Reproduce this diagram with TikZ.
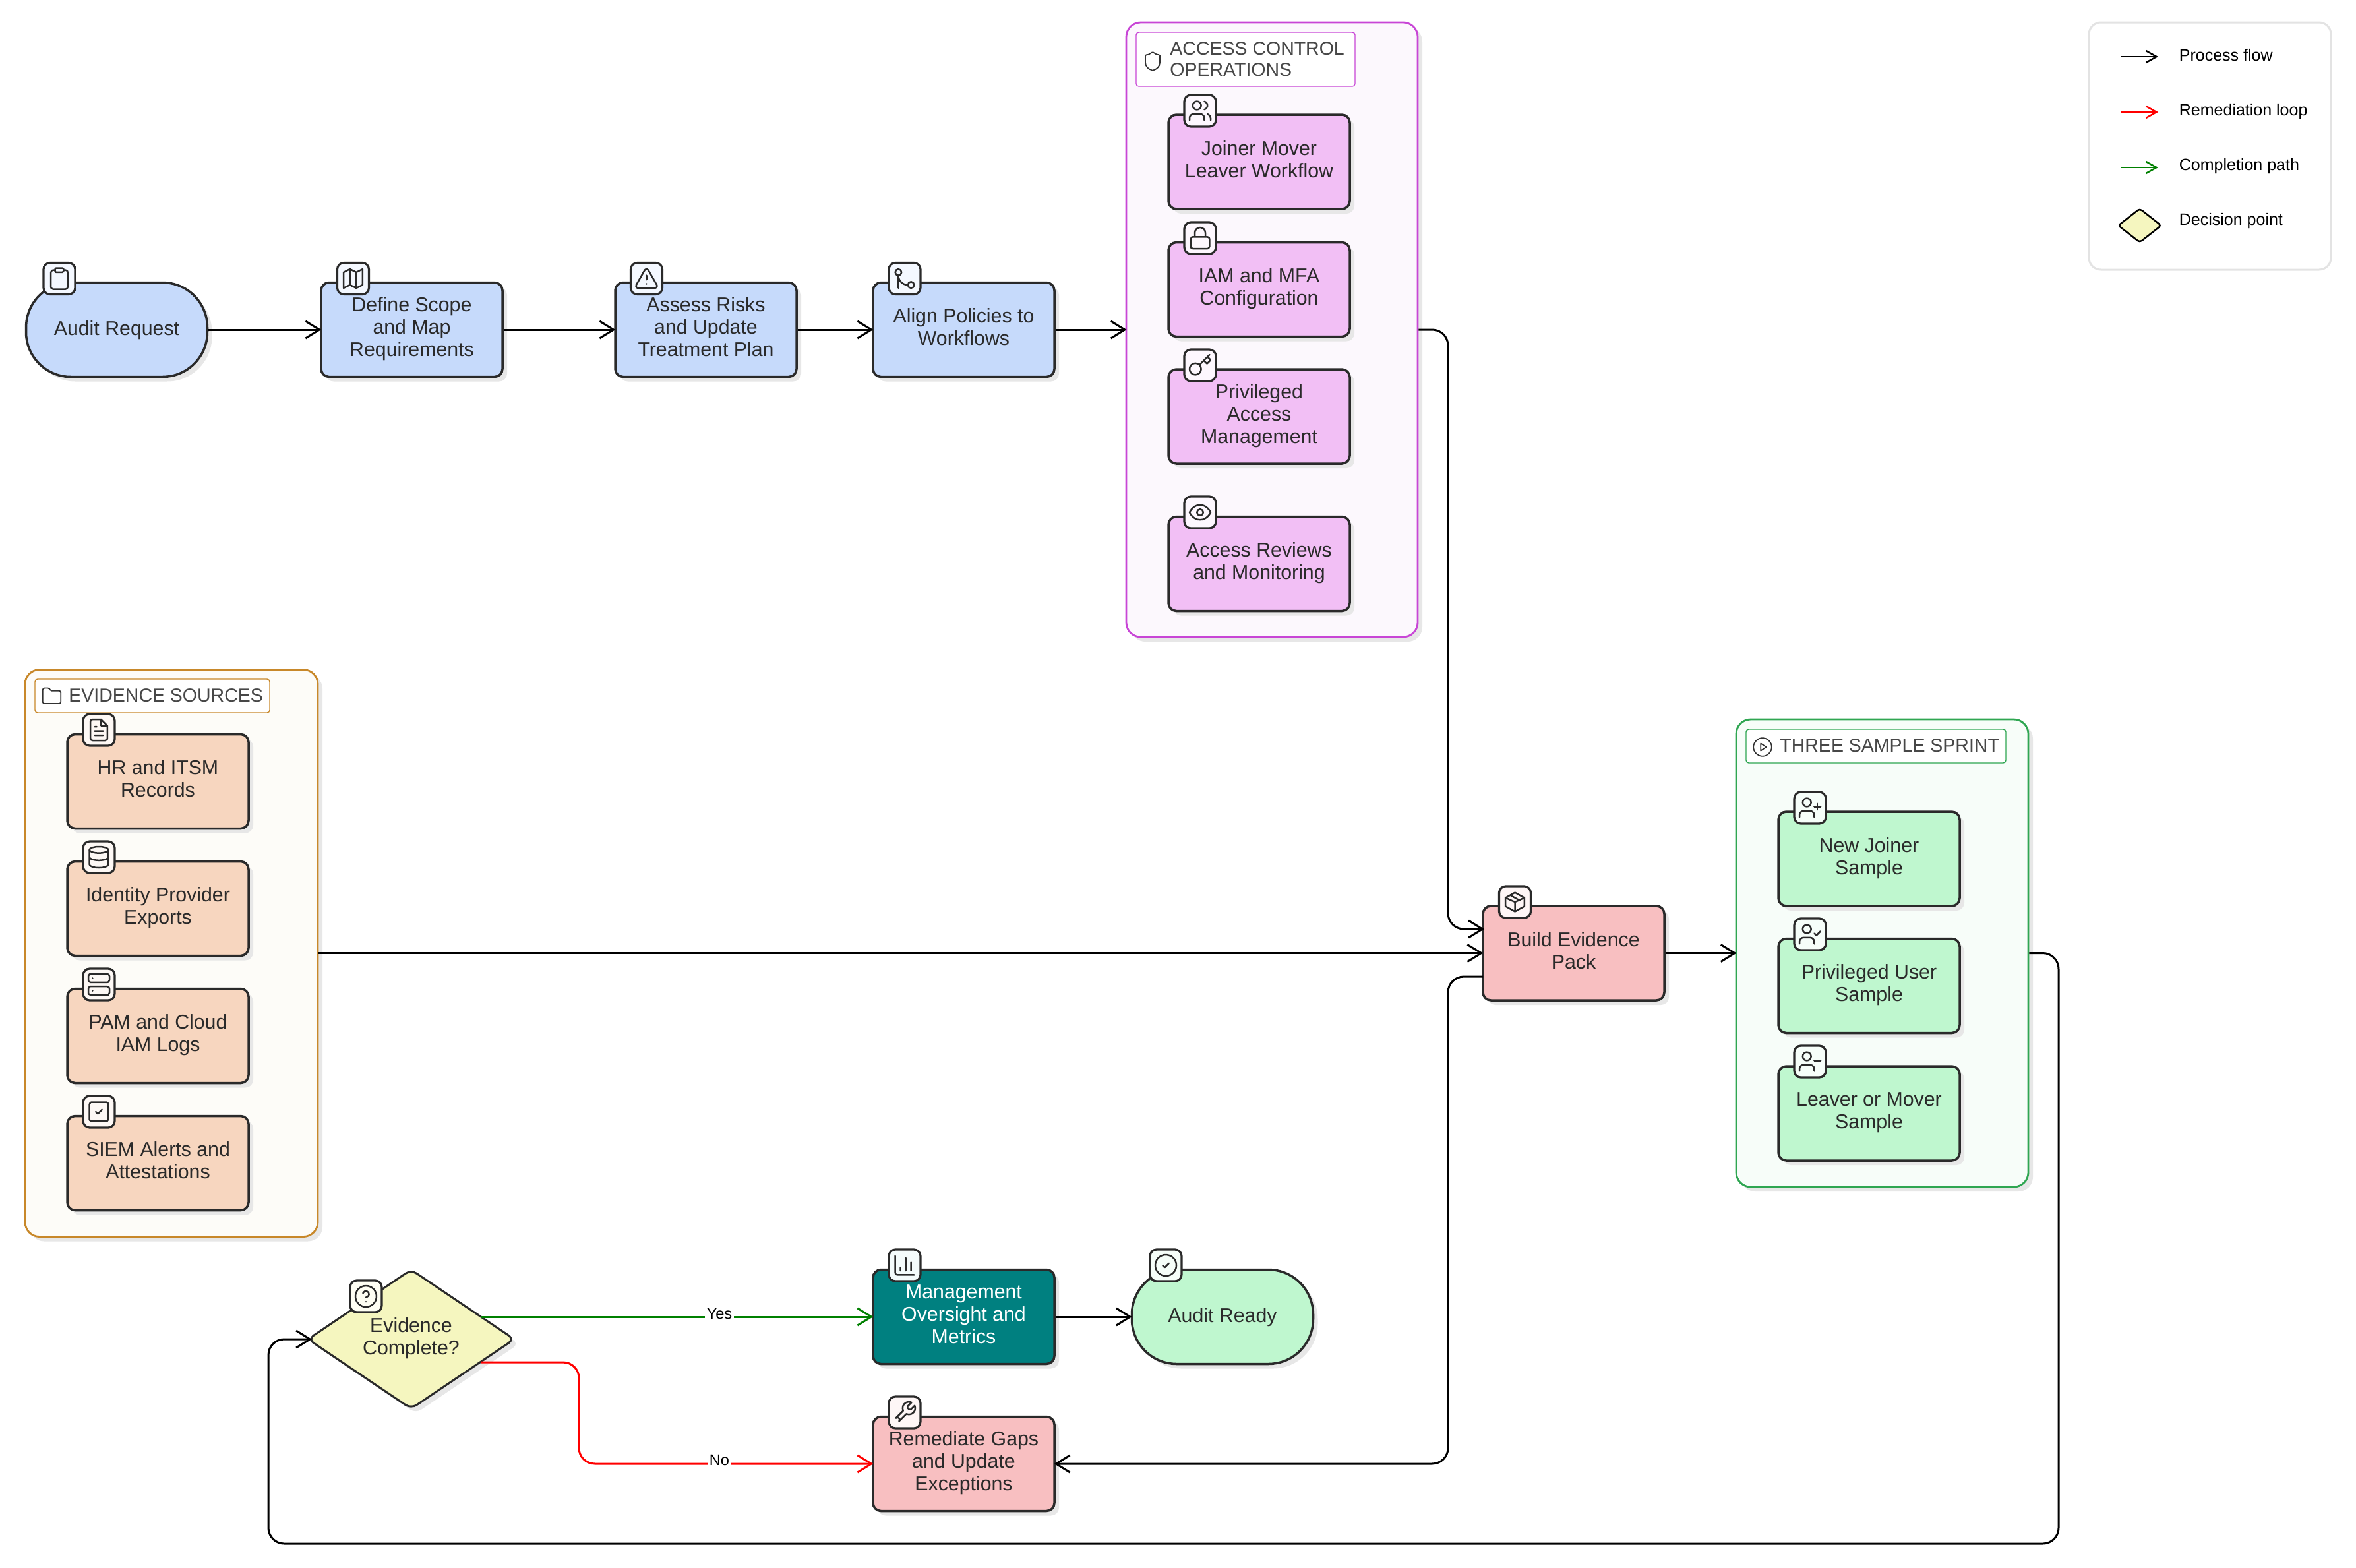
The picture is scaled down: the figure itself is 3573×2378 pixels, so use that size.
\documentclass[tikz,border=0pt]{standalone}
\usepackage{fontspec}
\setmainfont{Liberation Sans}
\usetikzlibrary{arrows.meta,shapes.geometric,shadows,svg.path,calc}
\definecolor{ink}{HTML}{2A2A2A}
\definecolor{cblue}{HTML}{C6DAFB}
\definecolor{cpink}{HTML}{F2BFF5}
\definecolor{cpeach}{HTML}{F7D6BF}
\definecolor{cgreen}{HTML}{BFF7CF}
\definecolor{crose}{HTML}{F8BFC1}
\definecolor{cteal}{HTML}{008080}
\definecolor{cyell}{HTML}{F5F6BF}
\definecolor{iblue}{HTML}{F4F8FF}
\definecolor{ipink}{HTML}{FDF7FE}
\definecolor{ipeach}{HTML}{FDF8F5}
\definecolor{igreen}{HTML}{F6FEF9}
\definecolor{irose}{HTML}{FEF6F6}
\definecolor{iteal}{HTML}{F4FBFB}
\definecolor{iyell}{HTML}{FEFEF3}
\definecolor{shad}{HTML}{E7E7E7}
\definecolor{gpink}{HTML}{C846D6}
\definecolor{gbrown}{HTML}{C8882A}
\definecolor{ggreen}{HTML}{2FA652}
\definecolor{fpink}{HTML}{FCF8FD}
\definecolor{fbrown}{HTML}{FDFCF8}
\definecolor{fgreen}{HTML}{F7FDF9}
\definecolor{cgreenline}{HTML}{008000}
\tikzset{
  softshadow/.style={drop shadow={shadow xshift=3.5pt,shadow yshift=-3.5pt,fill=shad,opacity=1}},
  struts/.style={execute at begin node={\rule{0pt}{12.9pt}},execute at end node={\rule[-4.1pt]{0pt}{4.1pt}}},
  proc/.style={draw=ink,line width=1.75pt,rounded corners=6pt,minimum width=137.5pt,minimum height=71.5pt,
    inner sep=0pt,align=center,text=ink,font=\fontsize{15.15}{17}\selectfont,struts,softshadow},
  term/.style={proc,rounded corners=34pt},
  groupbox/.style={line width=1.4pt,rounded corners=11pt,inner sep=0pt,softshadow},
  titlebox/.style={fill=white,line width=.7pt,rounded corners=2pt,inner sep=0pt},
  titletext/.style={anchor=west,inner sep=0pt,align=left,text=black!72,font=\fontsize{14.25}{16}\selectfont},
  iconsq/.style={draw=ink,line width=1.6pt,rounded corners=5pt,minimum size=24pt,inner sep=0pt},
  glyph/.style={draw=ink,line width=1.25pt,line cap=round,line join=round},
  tglyph/.style={draw=black!80,line width=.9pt,line cap=round,line join=round},
  flow/.style={line width=1.5pt,rounded corners=12pt,shorten >=-1pt,-{Straight Barb[length=10.5pt,width=13pt,line width=1.5pt]}},
  edgelab/.style={fill=white,inner sep=1.2pt,font=\fontsize{11.8}{13}\selectfont},
  leglab/.style={anchor=west,inner sep=0pt,font=\fontsize{12.5}{14}\selectfont},
}
% glyphs on lucide's 24 grid
\newcommand\glclip{\draw[glyph] svg {M 9 2 h 6 a 1 1 0 0 1 1 1 v 2 a 1 1 0 0 1 -1 1 h -6 a 1 1 0 0 1 -1 -1 v -2 a 1 1 0 0 1 1 -1 z};
 \draw[glyph] svg {M 16 4 h 2 a 2 2 0 0 1 2 2 v 14 a 2 2 0 0 1 -2 2 H 6 a 2 2 0 0 1 -2 -2 V 6 a 2 2 0 0 1 2 -2 h 2};}
\newcommand\glmap{\draw[glyph] svg {M 9 3 L 3 6 v 15 l 6 -3 l 6 3 l 6 -3 V 3 l -6 3 l -6 -3 z M 9 3 v 15 M 15 6 v 15};}
\newcommand\glwarn{\draw[glyph] svg {M 21.73 18 l -8 -14 a 2 2 0 0 0 -3.48 0 l -8 14 A 2 2 0 0 0 4 21 h 16 a 2 2 0 0 0 1.73 -3 z M 12 9 v 4 M 12 17 h .01};}
\newcommand\glmerge{\draw[glyph] (6pt,6pt) circle[radius=3pt]; \draw[glyph] (18pt,18pt) circle[radius=3pt];
 \draw[glyph] svg {M 6 21 V 9 a 9 9 0 0 0 9 9};}
\newcommand\glusers{\draw[glyph] svg {M 16 21 v -2 a 4 4 0 0 0 -4 -4 H 6 a 4 4 0 0 0 -4 4 v 2 M 22 21 v -2 a 4 4 0 0 0 -3 -3.87 M 16 3.13 a 4 4 0 0 1 0 7.75};
 \draw[glyph] (9pt,7pt) circle[radius=4pt];}
\newcommand\gllock{\draw[glyph] svg {M 5 11 h 14 a 2 2 0 0 1 2 2 v 7 a 2 2 0 0 1 -2 2 H 5 a 2 2 0 0 1 -2 -2 v -7 a 2 2 0 0 1 2 -2 z M 7 11 V 7 a 5 5 0 0 1 10 0 v 4};}
\newcommand\glkey{\draw[glyph] (7.5pt,15.5pt) circle[radius=5.5pt];
 \draw[glyph] svg {M 21 2 L 11.4 11.6 M 15.5 7.5 l 3 3 L 22 7 l -3 -3};}
\newcommand\gleye{\draw[glyph] svg {M 2 12 C 2 12 5 5 12 5 C 19 5 22 12 22 12 C 22 12 19 19 12 19 C 5 19 2 12 2 12 z};
 \draw[glyph] (12pt,12pt) circle[radius=3pt];}
\newcommand\glfile{\draw[glyph] svg {M 14 2 H 6 a 2 2 0 0 0 -2 2 v 16 a 2 2 0 0 0 2 2 h 12 a 2 2 0 0 0 2 -2 V 8 z M 14 2 v 6 h 6 M 16 13 H 8 M 16 17 H 8 M 10 9 H 8};}
\newcommand\gldb{\draw[glyph] (12pt,5pt) ellipse[x radius=9pt,y radius=3pt];
 \draw[glyph] svg {M 3 5 v 14 a 9 3 0 0 0 18 0 V 5 M 3 12 a 9 3 0 0 0 18 0};}
\newcommand\glserver{\draw[glyph] svg {M 4 2 h 16 a 2 2 0 0 1 2 2 v 4 a 2 2 0 0 1 -2 2 H 4 a 2 2 0 0 1 -2 -2 V 4 a 2 2 0 0 1 2 -2 z M 4 14 h 16 a 2 2 0 0 1 2 2 v 4 a 2 2 0 0 1 -2 2 H 4 a 2 2 0 0 1 -2 -2 v -4 a 2 2 0 0 1 2 -2 z M 6 6 h .01 M 6 18 h .01};}
\newcommand\glchecksq{\draw[glyph] svg {M 5 3 h 14 a 2 2 0 0 1 2 2 v 14 a 2 2 0 0 1 -2 2 H 5 a 2 2 0 0 1 -2 -2 V 5 a 2 2 0 0 1 2 -2 z M 9 12 l 2 2 l 4 -4};}
\newcommand\glpack{\draw[glyph] svg {M 21 8 L 12 3 L 3 8 V 16 L 12 21 L 21 16 z M 12 21 V 12 M 3 8 L 12 12 L 21 8 M 7.5 5.5 L 16.5 10.5};}
\newcommand\gluserbase{\draw[glyph] svg {M 16 21 v -2 a 4 4 0 0 0 -4 -4 H 6 a 4 4 0 0 0 -4 4 v 2};
 \draw[glyph] (9pt,7pt) circle[radius=4pt];}
\newcommand\gluserplus{\gluserbase\draw[glyph] svg {M 19 8 v 6 M 22 11 h -6};}
\newcommand\gluseroc{\gluserbase\draw[glyph] svg {M 16 11 l 2 2 l 4 -4};}
\newcommand\gluserminus{\gluserbase\draw[glyph] svg {M 22 11 h -6};}
\newcommand\glhelp{\draw[glyph] (12pt,12pt) circle[radius=10pt];
 \draw[glyph] svg {M 9.09 9 a 3 3 0 0 1 5.83 1 c 0 2 -3 3 -3 3 M 12 17 h .01};}
\newcommand\glchart{\draw[glyph] svg {M 3 3 v 16 a 2 2 0 0 0 2 2 h 16 M 18 17 V 9 M 13 17 V 5 M 8 17 v -3};}
\newcommand\glcheckc{\draw[glyph] (12pt,12pt) circle[radius=10pt];
 \draw[glyph] svg {M 9 12 l 2 2 l 4 -4};}
\newcommand\glwrench{\draw[glyph] svg {M 14.7 6.3 a 1 1 0 0 0 0 1.4 l 1.6 1.6 a 1 1 0 0 0 1.4 0 l 3.77 -3.77 a 6 6 0 0 1 -7.94 7.94 l -6.91 6.91 a 2.12 2.12 0 0 1 -3 -3 l 6.91 -6.91 a 6 6 0 0 1 7.94 -7.94 l -3.76 3.76 z};}
\newcommand\iconat[5]{%
  \node[iconsq,fill=#4] (#1) at (#2,#3) {};
  \begin{scope}[shift={(#1.center)},xscale=.8,yscale=-.8,shift={(-12pt,-12pt)}]#5\end{scope}}
\begin{document}
\begin{tikzpicture}[x=.5pt,y=-.5pt]
\useasboundingbox (0,0) rectangle (3573,2378);
% groups
\node[groupbox,draw=gpink,fill=fpink,minimum width=221pt,minimum height=466pt] (access) at (1929,500) {};
\node[titlebox,draw=gpink,minimum width=166pt,minimum height=41pt] (accesstitle) at (1889,90) {};
\node[titletext] (accesstext) at (1774,90) {ACCESS CONTROL\\OPERATIONS};
\begin{scope}[shift={(1748,93)},xscale=.69,yscale=-.69,shift={(-12pt,-12pt)}]
 \draw[tglyph] svg {M 20 13 c 0 5 -3.5 7.5 -7.66 8.95 a 1 1 0 0 1 -.67 -.01 C 7.5 20.5 4 18 4 13 V 6 a 1 1 0 0 1 1 -1 c 2 0 4.5 -1.2 6.24 -2.72 a 1.17 1.17 0 0 1 1.52 0 C 14.51 3.81 17 5 19 5 a 1 1 0 0 1 1 1 z};
\end{scope}
\node[groupbox,draw=gbrown,fill=fbrown,minimum width=222pt,minimum height=430pt] (evidence) at (260,1445.5) {};
\node[titlebox,draw=gbrown,minimum width=178pt,minimum height=25.5pt] (evidencetitle) at (231,1055.5) {};
\node[titletext] (evidencetext) at (104,1055) {EVIDENCE SOURCES};
\begin{scope}[shift={(78.5,1056)},xscale=.69,yscale=-.69,shift={(-12pt,-12pt)}]
 \draw[tglyph] svg {M 20 20 a 2 2 0 0 0 2 -2 V 8 a 2 2 0 0 0 -2 -2 h -7.9 a 2 2 0 0 1 -1.69 -.9 L 9.6 3.9 A 2 2 0 0 0 7.93 3 H 4 a 2 2 0 0 0 -2 2 v 13 a 2 2 0 0 0 2 2 z};
\end{scope}
\node[groupbox,draw=ggreen,fill=fgreen,minimum width=221.5pt,minimum height=354.5pt] (sprint) at (2854.5,1445.5) {};
\node[titlebox,draw=ggreen,minimum width=197pt,minimum height=25.5pt] (sprinttitle) at (2845,1131.5) {};
\node[titletext] (sprinttext) at (2699,1131) {THREE SAMPLE SPRINT};
\begin{scope}[shift={(2673,1133)},xscale=.69,yscale=-.69,shift={(-12pt,-12pt)}]
 \draw[tglyph] (12pt,12pt) circle[radius=10pt];
 \draw[tglyph] svg {M 10 8 L 16 12 L 10 16 z};
\end{scope}
% top row
\node[term,fill=cblue] (audit) at (177,500) {Audit Request};
\iconat{auditicon}{90}{422.5}{iblue}{\glclip}
\node[proc,fill=cblue] (scope) at (624.5,500) {Define Scope\\and Map\\Requirements};
\iconat{scopeicon}{535.5}{422.5}{iblue}{\glmap}
\node[proc,fill=cblue] (risk) at (1070.5,500) {Assess Risks\\and Update\\Treatment Plan};
\iconat{riskicon}{980.5}{422.5}{iblue}{\glwarn}
\node[proc,fill=cblue] (align) at (1461.5,500) {Align Policies to\\Workflows};
\iconat{alignicon}{1372}{422.5}{iblue}{\glmerge}
% access control
\node[proc,fill=cpink] (jml) at (1909.5,245.5) {Joiner Mover\\Leaver Workflow};
\iconat{jmlicon}{1820}{168}{ipink}{\glusers}
\node[proc,fill=cpink] (iam) at (1909.5,439) {IAM and MFA\\Configuration};
\iconat{iamicon}{1820}{361}{ipink}{\gllock}
\node[proc,fill=cpink] (pam) at (1909.5,631.5) {Privileged\\Access\\Management};
\iconat{pamicon}{1820}{554}{ipink}{\glkey}
\node[proc,fill=cpink] (rev) at (1909.5,855) {Access Reviews\\and Monitoring};
\iconat{revicon}{1820}{777}{ipink}{\gleye}
% evidence
\node[proc,fill=cpeach] (hr) at (239.5,1185) {HR and ITSM\\Records};
\iconat{hricon}{150}{1107}{ipeach}{\glfile}
\node[proc,fill=cpeach] (idp) at (239.5,1378) {Identity Provider\\Exports};
\iconat{idpicon}{150}{1300}{ipeach}{\gldb}
\node[proc,fill=cpeach] (logs) at (239.5,1571) {PAM and Cloud\\IAM Logs};
\iconat{logsicon}{150}{1493}{ipeach}{\glserver}
\node[proc,fill=cpeach] (siem) at (239.5,1764) {SIEM Alerts and\\Attestations};
\iconat{siemicon}{150}{1686}{ipeach}{\glchecksq}
% sprint
\node[proc,fill=cgreen] (newj) at (2834.5,1302.5) {New Joiner\\Sample};
\iconat{newjicon}{2745}{1225}{igreen}{\gluserplus}
\node[proc,fill=cgreen] (privu) at (2834.5,1495) {Privileged User\\Sample};
\iconat{privuicon}{2745}{1417}{igreen}{\gluseroc}
\node[proc,fill=cgreen] (leav) at (2834.5,1688.5) {Leaver or Mover\\Sample};
\iconat{leavicon}{2745}{1610}{igreen}{\gluserminus}
% build
\node[proc,fill=crose] (build) at (2386.5,1445.5) {Build Evidence\\Pack};
\iconat{buildicon}{2297.5}{1368}{irose}{\glpack}
% bottom
\node[diamond,draw=ink,line width=1.5pt,rounded corners=5pt,aspect=1,fill=cyell,minimum width=157pt,minimum height=106pt,inner sep=0pt,align=center,text=ink,font=\fontsize{15.15}{17}\selectfont,struts,softshadow] (dec) at (623.5,2031) {Evidence\\Complete?};
\iconat{decicon}{555}{1966}{iyell}{\glhelp}
\node[proc,fill=cteal,text=white] (mgmt) at (1461.5,1997) {Management\\Oversight and\\Metrics};
\iconat{mgmticon}{1372}{1919}{iteal}{\glchart}
\node[term,fill=cgreen] (ready) at (1854,1997) {Audit Ready};
\iconat{readyicon}{1768}{1919}{igreen}{\glcheckc}
\node[proc,fill=crose] (fix) at (1461.5,2220) {Remediate Gaps\\and Update\\Exceptions};
\iconat{fixicon}{1372}{2142}{irose}{\glwrench}
% free points on shape sides
\coordinate (buildupper) at (2249,1409);
\coordinate (buildlower) at (2249,1481);
\coordinate (accessturn) at (2196,500);
\coordinate (accessdown) at (2196,1409);
\coordinate (fixturn) at (2196,2220);
\coordinate (fixup) at (2196,1481);
\coordinate (sprintturn) at (3122,1445.5);
\coordinate (sprintdown) at (3122,2341);
\coordinate (loopcorner) at (407,2341);
\coordinate (loopup) at (407,2031);
\coordinate (decleft) at (471,2031);
\coordinate (decyes) at (730,1997);
\coordinate (decno) at (730,2066);
\coordinate (noturn) at (878,2066);
\coordinate (nodown) at (878,2220);
% connectors
\draw[flow] (audit.east) -- (scope.west);
\draw[flow] (scope.east) -- (risk.west);
\draw[flow] (risk.east) -- (align.west);
\draw[flow] (align.east) -- (access.west);
\draw[flow] (access.east) -- (accessturn) -- (accessdown) -- (buildupper);
\draw[flow] (evidence.east) -- (build.west);
\draw[flow] (build.east) -- (sprint.west);
\draw[flow] (sprint.east) -- (sprintturn) -- (sprintdown) -- (loopcorner) -- (loopup) -- (decleft);
\draw[flow] (buildlower) -- (fixup) -- (fixturn) -- (fix.east);
\draw[flow] (mgmt.east) -- (ready.west);
\draw[flow,draw=cgreenline] (decyes) -- (mgmt.west);
\draw[flow,draw=red] (decno) -- (noturn) -- (nodown) -- (fix.west);
\node[edgelab] (yeslabel) at (1091,1992) {Yes};
\node[edgelab] (nolabel) at (1091,2214) {No};
% legend
\node[draw=black!11,fill=white,line width=1.5pt,rounded corners=9pt,minimum width=183.5pt,minimum height=187.5pt,inner sep=0pt] (legend) at (3351.5,221.5) {};
\coordinate (lega) at (3217,86); \coordinate (legb) at (3273,86);
\coordinate (legc) at (3217,170); \coordinate (legd) at (3273,170);
\coordinate (lege) at (3217,254); \coordinate (legf) at (3273,254);
\tikzset{legflow/.style={line width=1.25pt,-{Straight Barb[length=8pt,width=9pt,line width=1.25pt]}}}
\draw[legflow] (lega) -- (legb);
\draw[legflow,draw=red] (legc) -- (legd);
\draw[legflow,draw=cgreenline] (lege) -- (legf);
\node[leglab] (legl1) at (3304.5,84) {Process flow};
\node[leglab] (legl2) at (3304.5,169) {Remediation loop};
\node[leglab] (legl3) at (3304.5,252) {Completion path};
\node[leglab] (legl4) at (3304.5,335) {Decision point};
\node[diamond,draw=black,line width=1.25pt,rounded corners=2pt,aspect=1,fill=cyell,minimum width=33pt,minimum height=26pt,inner sep=0pt] (legdec) at (3245,342) {};
\end{tikzpicture}
\end{document}
